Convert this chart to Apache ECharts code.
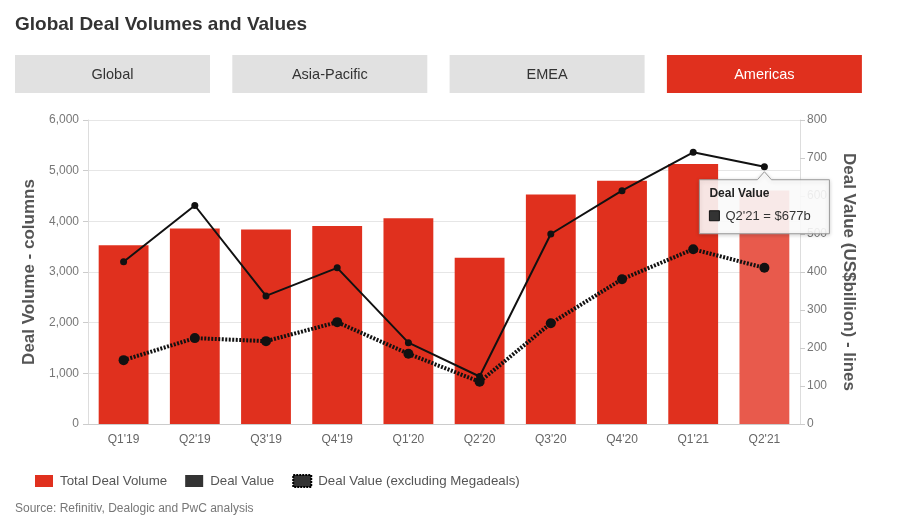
<!DOCTYPE html>
<html><head><meta charset="utf-8">
<script src="https://cdn.jsdelivr.net/npm/echarts@6/dist/echarts.min.js"></script>
<style>html,body{margin:0;padding:0;background:#fff}#c{width:900px;height:525px}</style>
</head><body><div id="c"></div>
<script>
const categories = ["Q1'19","Q2'19","Q3'19","Q4'19","Q1'20","Q2'20","Q3'20","Q4'20","Q1'21","Q2'21"];
const dealVolume = [3530, 3860, 3840, 3910, 4060, 3280, 4530, 4800, 5130, 4610];
const dealValue = [427, 575, 337, 411, 214, 125, 500, 614, 715, 677];
const dealValueExMega = [168, 226, 218, 268, 185, 111, 265, 381, 460, 411];
const tabs = ["Global", "Asia-Pacific", "EMEA", "Americas"];
const activeTab = "Americas";
const highlightIndex = 9;

const RED = '#e0301e';
const FONT = '"Liberation Sans", Arial, sans-serif';
const chart = echarts.init(document.getElementById('c'));

const tabGraphics = tabs.map((t, i) => ({
  type: 'group', left: 15 + i * 217.3, top: 55,
  children: [
    { type: 'rect', shape: { x: 0, y: 0, width: 195, height: 38 },
      style: { fill: t === activeTab ? RED : '#e1e1e1' } },
    { type: 'text', x: 97.5, y: 19.5,
      style: { text: t, fill: t === activeTab ? '#fff' : '#333', font: '14.5px ' + FONT, align: 'center', verticalAlign: 'middle' } }
  ]
}));
const sourceGraphic = { type: 'text', left: 15, top: 503,
  style: { text: 'Source: Refinitiv, Dealogic and PwC analysis', fill: '#777', font: '12px ' + FONT } };

chart.setOption({
  animation: false,
  textStyle: { fontFamily: FONT },
  title: { text: 'Global Deal Volumes and Values', left: 10, top: 10,
    textStyle: { fontSize: 19, fontWeight: 'bold', color: '#333', fontFamily: FONT } },
  grid: { left: 88, right: 100, top: 120, bottom: 101 },
  legend: {
    left: 30, top: 469, itemWidth: 18, itemHeight: 12, itemGap: 18,
    textStyle: { color: '#555', fontSize: 13.3, padding: [0, 0, 0, 2] },
    lineStyle: { opacity: 0 },
    data: [
      { name: 'Total Deal Volume', icon: 'rect', itemStyle: { color: RED } },
      { name: 'Deal Value', icon: 'rect', itemStyle: { color: '#333' } },
      { name: 'Deal Value (excluding Megadeals)', icon: 'rect',
        itemStyle: { color: '#333', borderColor: '#000', borderWidth: 2, borderType: [2, 1] } }
    ]
  },
  xAxis: {
    type: 'category', data: categories,
    axisLine: { lineStyle: { color: '#ccc' } },
    axisTick: { show: false },
    axisLabel: { color: '#666', fontSize: 12, margin: 10 }
  },
  yAxis: [
    { type: 'value', min: 0, max: 6000, interval: 1000,
      name: 'Deal Volume - columns', nameLocation: 'middle', nameGap: 50,
      nameTextStyle: { fontSize: 17, fontWeight: 'bold', color: '#555' },
      axisLine: { show: true, lineStyle: { color: '#ddd' } },
      axisTick: { show: true, length: 5, lineStyle: { color: '#ccc' } },
      axisLabel: { color: '#777', fontSize: 12, margin: 9,
        formatter: v => v.toLocaleString('en-US') },
      splitLine: { lineStyle: { color: '#e6e6e6' } } },
    { type: 'value', min: 0, max: 800, interval: 100, position: 'right',
      name: 'Deal Value (US$billion) - lines', nameLocation: 'middle', nameGap: 40, nameRotate: -90,
      nameTextStyle: { fontSize: 17, fontWeight: 'bold', color: '#555' },
      axisLine: { show: true, lineStyle: { color: '#ddd' } },
      axisTick: { show: true, length: 5, lineStyle: { color: '#ccc' } },
      axisLabel: { color: '#777', fontSize: 12, margin: 7 },
      splitLine: { show: false } }
  ],
  series: [
    { name: 'Total Deal Volume', type: 'bar', yAxisIndex: 0, barCategoryGap: '30%',
      itemStyle: { color: RED },
      data: dealVolume.map((v, i) => i === highlightIndex ? { value: v, itemStyle: { color: '#e85a4c' } } : v) },
    { name: 'Deal Value', type: 'line', yAxisIndex: 1, data: dealValue,
      symbol: 'circle', symbolSize: 7, itemStyle: { color: '#111' },
      lineStyle: { color: '#111', width: 2 }, z: 4 },
    { name: 'Deal Value (excluding Megadeals)', type: 'line', yAxisIndex: 1, data: dealValueExMega,
      symbol: 'circle', symbolSize: 10, itemStyle: { color: '#111' },
      lineStyle: { color: '#111', width: 4, type: [2, 1.5] }, z: 3 }
  ],
  graphic: tabGraphics.concat([sourceGraphic])
});

// Tooltip anchored at the highlighted Deal Value point
const p = chart.convertToPixel({ seriesIndex: 1 }, [highlightIndex, dealValue[highlightIndex]]);
const bx = p[0] - 65, by = p[1] + 13, bw = 130, bh = 54;
chart.setOption({
  graphic: tabGraphics.concat([sourceGraphic,
    { type: 'group', z: 100, zlevel: 1, children: [
      { type: 'polygon', z: 100, zlevel: 1, shape: { points: [
          [bx, by], [p[0] - 7, by], [p[0], by - 8], [p[0] + 7, by], [bx + bw, by],
          [bx + bw, by + bh], [bx, by + bh]] },
        style: { fill: 'rgba(255,255,255,0.88)', stroke: '#999', lineWidth: 1,
          shadowBlur: 4, shadowColor: 'rgba(0,0,0,0.2)', shadowOffsetY: 1 } },
      { type: 'text', z: 101, zlevel: 1, x: bx + 10, y: by + 8,
        style: { text: 'Deal Value', fill: '#222', font: 'bold 12px ' + FONT } },
      { type: 'rect', z: 101, zlevel: 1, shape: { x: bx + 10, y: by + 31, width: 10, height: 10 },
        style: { fill: '#333', stroke: '#111', lineWidth: 1 } },
      { type: 'text', z: 101, zlevel: 1, x: bx + 26, y: by + 30,
        style: { text: categories[highlightIndex] + ' = $' + dealValue[highlightIndex] + 'b', fill: '#333', font: '13px ' + FONT } }
    ] }
  ])
});
</script></body></html>
